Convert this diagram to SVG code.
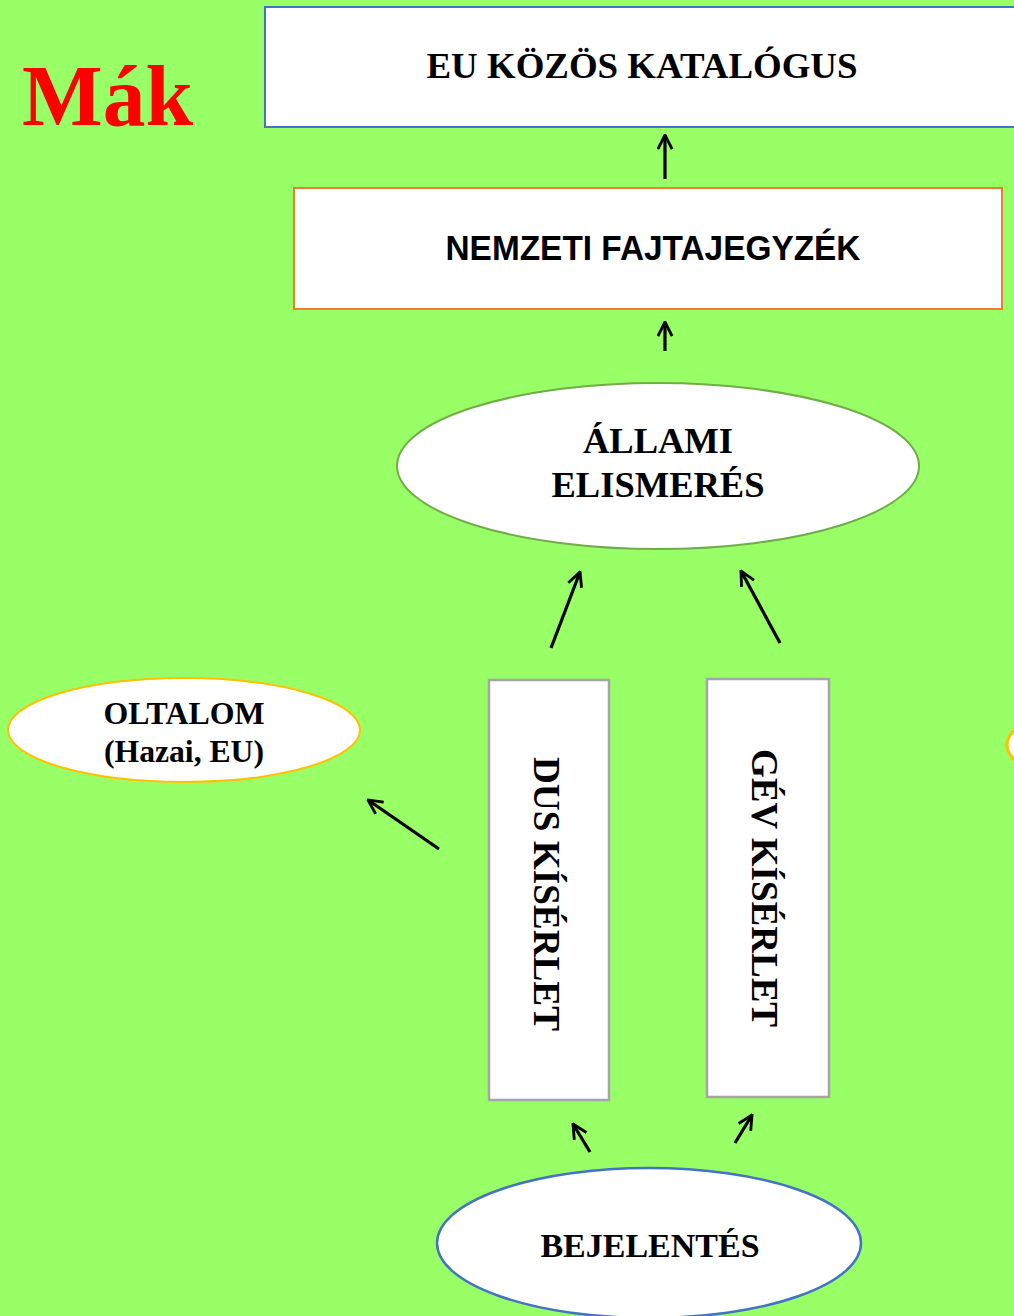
<svg xmlns="http://www.w3.org/2000/svg" width="1014" height="1316" viewBox="0 0 1014 1316">
<defs>
<style>
.serif{font-family:"Liberation Serif","Times New Roman",serif;font-weight:bold;fill:#000}
.sans{font-family:"Liberation Sans",Arial,sans-serif;font-weight:bold;fill:#000}
.conn line{stroke:#000;stroke-width:3.2;fill:none;marker-end:url(#ah)}
</style>
<marker id="ah" viewBox="0 0 12 12" refX="11" refY="6" markerWidth="17" markerHeight="17" markerUnits="userSpaceOnUse" orient="auto">
<path d="M1,1 L11,6 L1,11" fill="none" stroke="#000" stroke-width="2"/>
</marker>
</defs>
<rect x="0" y="0" width="1014" height="1316" fill="#99FF66"/>
<g id="title"><text x="22" y="125" class="serif" style="fill:#FF0000" font-size="86" textLength="171" lengthAdjust="spacingAndGlyphs">Mák</text></g>
<g id="eu">
<rect x="265" y="7" width="760" height="120" fill="#fff" stroke="#4472C4" stroke-width="2"/>
<text x="642" y="78" class="serif" font-size="36" text-anchor="middle" textLength="431" lengthAdjust="spacingAndGlyphs">EU KÖZÖS KATALÓGUS</text>
</g>
<g id="nemzeti">
<rect x="294" y="188" width="708" height="121" fill="#fff" stroke="#ED7D31" stroke-width="2"/>
<text x="653" y="260" class="sans" font-size="35" text-anchor="middle" textLength="415" lengthAdjust="spacingAndGlyphs">NEMZETI FAJTAJEGYZÉK</text>
</g>
<g id="allami">
<ellipse cx="658" cy="466" rx="261" ry="83" fill="#fff" stroke="#70AD47" stroke-width="2"/>
<text x="658" y="453" class="serif" font-size="36.5" text-anchor="middle">ÁLLAMI</text>
<text x="658" y="497" class="serif" font-size="36.5" text-anchor="middle">ELISMERÉS</text>
</g>
<g id="oltalom">
<ellipse cx="184" cy="730" rx="176" ry="52" fill="#fff" stroke="#FFC000" stroke-width="2"/>
<text x="184" y="724" class="serif" font-size="31" text-anchor="middle" textLength="161" lengthAdjust="spacingAndGlyphs">OLTALOM</text>
<text x="184" y="762" class="serif" font-size="31" text-anchor="middle" textLength="160" lengthAdjust="spacingAndGlyphs">(Hazai, EU)</text>
</g>
<g id="right-partial">
<ellipse cx="1183" cy="745" rx="176" ry="52" fill="#fff" stroke="#FFC000" stroke-width="3"/>
</g>
<g id="dus">
<rect x="489" y="680" width="120" height="420" fill="#fff" stroke="#A5A5A5" stroke-width="2.5"/>
<text transform="translate(534,894) rotate(90)" class="serif" font-size="37" text-anchor="middle" textLength="274" lengthAdjust="spacingAndGlyphs">DUS KÍSÉRLET</text>
</g>
<g id="gev">
<rect x="707" y="679" width="122" height="418" fill="#fff" stroke="#A5A5A5" stroke-width="2.5"/>
<text transform="translate(752,888) rotate(90)" class="serif" font-size="37" text-anchor="middle" textLength="278" lengthAdjust="spacingAndGlyphs">GÉV KÍSÉRLET</text>
</g>
<g id="bejelentes">
<ellipse cx="649" cy="1243" rx="212" ry="75" fill="#fff" stroke="#4472C4" stroke-width="2.5"/>
<text x="650" y="1257" class="serif" font-size="34" text-anchor="middle">BEJELENTÉS</text>
</g>
<g id="connectors" class="conn">
<line x1="665" y1="179" x2="665" y2="135"/>
<line x1="665" y1="351" x2="665" y2="322"/>
<line x1="551" y1="648" x2="580" y2="572"/>
<line x1="780" y1="643" x2="741" y2="571"/>
<line x1="439" y1="849" x2="368" y2="800"/>
<line x1="590" y1="1152" x2="573" y2="1124"/>
<line x1="735" y1="1143" x2="752" y2="1115"/>
</g>
</svg>
